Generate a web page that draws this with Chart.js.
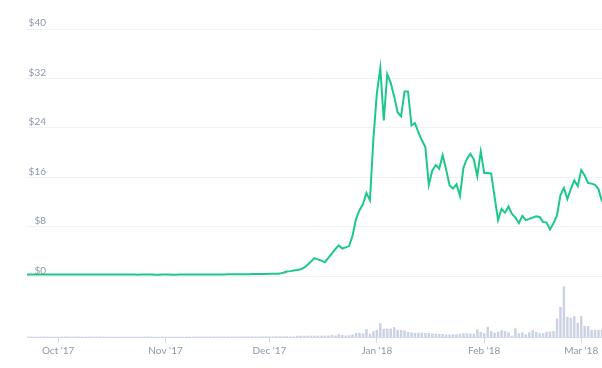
<!DOCTYPE html>
<html>
<head>
<meta charset="utf-8">
<script src="https://cdn.jsdelivr.net/npm/chart.js@4/dist/chart.umd.min.js"></script>
<style>
    html, body { margin: 0; padding: 0; background: #fff; }
    canvas { display: block; }
</style>
</head>
<body>
<canvas id="priceChart" width="602" height="368"></canvas>
<script>
// first day of the series, one value per day after it
const startDay = "2017-09-22";

// daily closing price (USD)
const price = [
    0.31, 0.30, 0.30, 0.29, 0.30, 0.31, 0.30, 0.29, 0.29, 0.30,
    0.30, 0.31, 0.30, 0.30, 0.29, 0.29, 0.30, 0.30, 0.31, 0.30,
    0.30, 0.29, 0.29, 0.30, 0.30, 0.30, 0.29, 0.29, 0.30, 0.30,
    0.29, 0.29, 0.28, 0.29, 0.29, 0.30, 0.29, 0.28, 0.28, 0.29,
    0.29, 0.29, 0.28, 0.28, 0.29, 0.29, 0.30, 0.29, 0.29, 0.30,
    0.30, 0.30, 0.31, 0.30, 0.31, 0.31, 0.32, 0.32, 0.33, 0.33,
    0.34, 0.34, 0.35, 0.35, 0.36, 0.37, 0.38, 0.38, 0.39, 0.40,
    0.41, 0.42, 0.44, 0.45, 0.6, 0.8, 0.85, 0.95, 1.05, 1.15,
    1.4, 1.9, 2.4, 2.95, 2.75, 2.55, 2.3, 3.0, 3.7, 4.4,
    5.0, 4.5, 4.7, 4.9, 6.6, 9.3, 10.7, 11.7, 13.5, 12.3,
    22.2, 29.6, 33.7, 25.2, 32.7, 31.3, 29.1, 26.5, 25.9, 29.9,
    29.9, 24.4, 24.8, 23.3, 22.0, 20.9, 14.8, 17.1, 18.0, 17.4,
    19.6, 17.3, 14.7, 14.2, 14.9, 13.0, 17.6, 19.0, 19.8, 18.9,
    16.2, 20.2, 16.7, 16.7, 16.6, 12.8, 9.1, 10.9, 10.3, 11.3,
    10.1, 9.5, 8.6, 9.8, 9.1, 9.3, 9.5, 9.7, 9.6, 8.8,
    8.7, 7.6, 8.6, 9.8, 13.1, 14.3, 12.5, 14.1, 15.5, 14.6,
    17.2, 16.3, 15.1, 15.0, 14.8, 14.1, 12.1
];

// daily traded volume (USD millions)
const volume = [
    2, 2, 1.8, 1.6, 2, 2.2, 1.8, 1.6, 1.6, 2,
    1.8, 2, 1.6, 1.6, 1.8, 2, 1.6, 1.4, 1.8, 1.6,
    1.6, 1.8, 1.6, 1.4, 1.6, 1.6, 1.8, 1.6, 1.4, 1.6,
    1.6, 1.4, 1.4, 1.6, 1.6, 1.8, 1.6, 1.4, 1.4, 1.6,
    1.4, 1.6, 1.4, 1.4, 1.6, 1.6, 1.8, 1.6, 1.6, 1.8,
    1.8, 1.6, 1.8, 2, 1.8, 2, 2, 1.8, 2, 2.2,
    2, 2.2, 2.4, 2.2, 2.4, 2.6, 2.4, 2.6, 2.8, 2.6,
    3, 2.8, 3, 3.2, 3, 3.2, 2, 2.4, 5, 5.2,
    5, 5.4, 5.6, 5.2, 5.6, 5.2, 5.8, 6, 9.2, 6,
    10.8, 8, 6, 7.2, 10, 16, 17, 14, 32, 13,
    23, 29, 56, 33, 33, 34, 40, 29, 28, 26,
    20, 18, 17, 17, 18, 16, 16, 14, 13, 12,
    12, 10, 10, 11, 11, 13, 15, 15, 14, 13,
    31, 21, 15, 41, 24, 17, 21, 28, 24, 19,
    5, 35, 15, 19, 11, 19, 28, 21, 15, 15,
    21, 22, 24, 75, 121, 204, 81, 77, 84, 57,
    84, 44, 44, 28, 29, 29, 29
];

const monthStarts = ["2017-10-01", "2017-11-01", "2017-12-01", "2018-01-01", "2018-02-01", "2018-03-01"];
const monthLabels = ["Oct '17", "Nov '17", "Dec '17", "Jan '18", "Feb '18", "Mar '18"];
const priceTicks = [0, 8, 16, 24, 32, 40];

const dayMs = 86400000;
const start = Date.parse(startDay);
const monthIdx = monthStarts.map(d => Math.round((Date.parse(d) - start) / dayMs));

const labelColor = "#8e97aa";
const fontFamily = "Lato, 'Open Sans', sans-serif";

// y labels sit right-aligned just above their grid line
const priceLabels = {
    id: "priceLabels",
    afterDatasetsDraw(chart) {
        const { ctx, chartArea, scales } = chart;
        const y = scales.y;
        ctx.save();
        ctx.font = "10px " + fontFamily;
        ctx.fillStyle = labelColor;
        ctx.textAlign = "right";
        ctx.textBaseline = "middle";
        y.ticks.forEach(t => {
            ctx.fillText("$" + t.value, chartArea.left + 19, y.getPixelForValue(t.value) - 6);
        });
        ctx.restore();
    }
};

new Chart(document.getElementById("priceChart"), {
    data: {
        datasets: [
            {
                type: "line",
                data: price.map((v, i) => ({ x: i, y: v })),
                borderColor: "#1ec88a",
                borderWidth: 2,
                pointRadius: 0,
                tension: 0,
                yAxisID: "y",
                order: 0
            },
            {
                type: "bar",
                data: volume.map((v, i) => ({ x: i, y: v })),
                backgroundColor: "#cbd2e4",
                barPercentage: 0.9,
                categoryPercentage: 0.8,
                yAxisID: "vol",
                order: 1
            }
        ]
    },
    options: {
        responsive: false,
        animation: false,
        layout: { padding: { left: 27, top: 29, right: 0, bottom: 9 } },
        plugins: { legend: { display: false }, tooltip: { enabled: false } },
        scales: {
            x: {
                type: "linear",
                offset: false,
                min: 0,
                max: price.length - 1,
                afterBuildTicks: axis => { axis.ticks = monthIdx.map(v => ({ value: v })); },
                ticks: {
                    callback: (value, index) => monthLabels[index],
                    color: labelColor,
                    font: { family: fontFamily, size: 10 },
                    padding: 2,
                    maxRotation: 0,
                    autoSkip: false
                },
                grid: { offset: false, drawOnChartArea: false, tickLength: 6, color: "#d3d9e6" },
                border: { color: "#d3d9e6" }
            },
            y: {
                min: -9.8,
                max: 40,
                afterBuildTicks: axis => { axis.ticks = priceTicks.map(v => ({ value: v })); },
                ticks: { display: false },
                grid: { color: "#f1f2f4", drawTicks: false },
                border: { display: false }
            },
            vol: {
                display: false,
                min: 0,
                max: 1240
            }
        }
    },
    plugins: [priceLabels]
});
</script>
</body>
</html>
